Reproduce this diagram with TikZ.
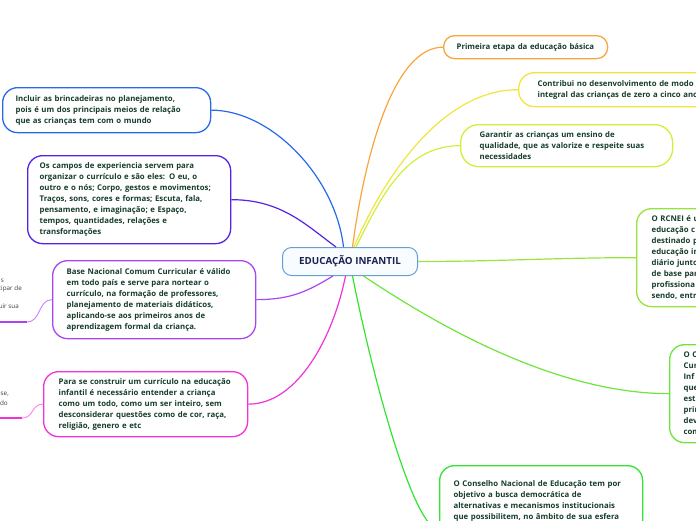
\documentclass[tikz,border=0pt]{standalone}
\usepackage{fontspec}
\setmainfont{Open Sans}
\definecolor{txt}{RGB}{22,62,42}
\definecolor{ctrtxt}{RGB}{25,35,80}
\definecolor{fragc}{RGB}{60,60,60}
\definecolor{cBlue}{RGB}{40,105,235}
\definecolor{cIndigo}{RGB}{85,35,228}
\definecolor{cPurple}{RGB}{170,70,240}
\definecolor{cPurpleL}{RGB}{200,140,250}
\definecolor{cMagenta}{RGB}{240,50,215}
\definecolor{cMagentaL}{RGB}{250,140,235}
\definecolor{cOrange}{RGB}{248,165,60}
\definecolor{cYellow}{RGB}{242,228,60}
\definecolor{cLime}{RGB}{205,240,60}
\definecolor{cGreenA}{RGB}{150,228,60}
\definecolor{cGreenB}{RGB}{110,228,60}
\definecolor{cGreenC}{RGB}{50,228,50}
\definecolor{cCtr}{RGB}{100,160,215}
\definecolor{cCtrFill}{RGB}{248,252,255}
\tikzset{
  mbox/.style={draw, line width=1.3pt, fill=white, rounded corners=15pt, anchor=north west,
    align=left, inner ysep=0pt, text=txt, font=\fontsize{7.8}{11}\selectfont\bfseries},
  frag/.style={anchor=east, text=fragc, font=\fontsize{6.3}{8}\selectfont, inner sep=0pt},
  link/.style={line width=1.2pt},
  uline/.style={line width=1.8pt},
}
\begin{document}
\begin{tikzpicture}[x=1pt,y=-1pt]
\useasboundingbox (0,0) rectangle (696,520);
\clip (0,0) rectangle (696,520);

% central node
\node[draw=cCtr, line width=1pt, fill=cCtrFill, rounded corners=9pt, anchor=north west,
  minimum width=135pt, minimum height=28pt, text=ctrtxt, font=\fontsize{9.8}{11}\selectfont\bfseries]
  (ctr) at (282,247) {EDUCAÇÃO INFANTIL};

% left nodes
\node[mbox, draw=cBlue, text width=182pt, inner xsep=13pt, minimum height=45pt] (incl) at (2,87)
 {Incluir as brincadeiras no planejamento,\\pois é um dos principais meios de relação\\que as crianças tem com o mundo};
\node[mbox, draw=cIndigo, text width=179pt, inner xsep=12pt, minimum height=88pt] (camp) at (27,155)
 {Os campos de experiencia servem para\\organizar o currículo e são eles: O eu, o\\outro e o nós; Corpo, gestos e movimentos;\\Traços, sons, cores e formas; Escuta, fala,\\pensamento, e imaginação; e Espaço,\\tempos, quantidades, relações e\\transformações};
\node[mbox, draw=cPurple, text width=175pt, inner xsep=14pt, minimum height=78pt] (base) at (52,260)
 {Base Nacional Comum Curricular é válido\\em todo país e serve para nortear o\\currículo, na formação de professores,\\planejamento de materiais didáticos,\\aplicando-se aos primeiros anos de\\aprendizagem formal da criança.};
\node[mbox, draw=cMagenta, text width=174pt, inner xsep=15pt, minimum height=65pt] (para) at (43,371)
 {Para se construir um currículo na educação\\infantil é necessário entender a criança\\como um todo, como um ser inteiro, sem\\desconsiderar questões como de cor, raça,\\religião, genero e etc};

% right nodes
\node[mbox, draw=cOrange, rounded corners=11pt, text width=138pt, inner xsep=13pt, minimum height=23pt] (prim) at (443,35)
 {Primeira etapa da educação básica};
\node[mbox, draw=cYellow, rounded corners=16pt, text width=190pt, inner xsep=19pt, minimum height=34pt] (contr) at (518,72)
 {Contribui no desenvolvimento de modo\\integral das crianças de zero a cinco anos};
\node[mbox, draw=cLime, rounded corners=18pt, text width=174pt, inner xsep=19pt, minimum height=42pt] (gara) at (460,124)
 {Garantir as crianças um ensino de\\qualidade, que as valorize e respeite suas\\necessidades};
\node[mbox, draw=cGreenA, text width=170pt, inner xsep=15pt, minimum height=98pt] (rcnei) at (636,208)
 {O RCNEI é u\\educação c\\destinado p\\educação in\\diário junto\\de base par\\profissiona\\sendo, entr};
\node[mbox, draw=cGreenB, text width=170pt, inner xsep=14pt, minimum height=98pt] (ocur) at (669,344)
 {O C\\Cur\\Inf\\que\\est\\prin\\dev\\com};
\node[mbox, draw=cGreenC, text width=175pt, inner xsep=14pt, minimum height=128pt] (cons) at (439,465)
 {O Conselho Nacional de Educação tem por\\objetivo a busca democrática de\\alternativas e mecanismos institucionais\\que possibilitem, no âmbito de sua esfera\\de competência, assegurem a participação\\\strut\\\strut\\\strut\\\strut};

% cut-off fragments on the left
\node[frag] (fa) at (4,281) {s};
\node[frag] (fb) at (22,289) {cipar de};
\node[frag] (fc) at (19,306) {ruir sua};
\node[frag] (fd) at (9,394) {-se,};
\node[frag] (fe) at (8,403) {ado};
\coordinate (ua) at (27,322);
\coordinate (uaE) at (-3,322);
\coordinate (ub) at (22,418);
\coordinate (ubE) at (-3,418);

% connectors
\draw[link, cBlue] ([xshift=-6.5pt]ctr.north) .. controls +(-8,-70) and +(60,0) .. (incl.east);
\draw[link, cIndigo] ([xshift=-14pt]ctr.north) .. controls +(-30,-22) and +(50,0) .. (camp.east);
\draw[link, cPurple] ([xshift=-17pt]ctr.south) .. controls +(-25,15) and +(35,0) .. (base.east);
\draw[link, cMagenta] ([xshift=-4.5pt]ctr.south) .. controls +(-12,60) and +(50,0) .. (para.east);
\draw[link, cOrange] ([xshift=2.5pt]ctr.north) .. controls +(12,-90) and +(-50,0) .. (prim.west);
\draw[link, cYellow] ([xshift=4pt]ctr.north) .. controls +(25,-60) and +(-80,0) .. (contr.west);
\draw[link, cLime] ([xshift=6pt]ctr.north) .. controls +(25,-50) and +(-55,0) .. (gara.west);
\draw[link, cGreenA] (ctr.east) .. controls +(80,0) and +(-80,0) .. (rcnei.west);
\draw[link, cGreenB] ([xshift=13.5pt]ctr.south) .. controls +(60,40) and +(-120,0) .. (ocur.west);
\draw[link, cGreenC] ([xshift=2.5pt]ctr.south) .. controls +(23,115) and +(-24,0) .. (cons.west);

\draw[line width=1pt, cPurpleL] (base.west) .. controls +(-14,0) and +(14,0) .. (ua);
\draw[uline, cPurple] (ua) -- (uaE);
\draw[line width=1pt, cMagentaL] (para.west) .. controls +(-12,0) and +(12,0) .. (ub);
\draw[uline, cMagenta] (ub) -- (ubE);
\end{tikzpicture}
\end{document}
